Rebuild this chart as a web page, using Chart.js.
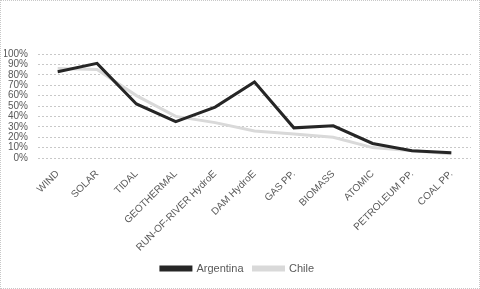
<!DOCTYPE html>
<html>
<head>
<meta charset="utf-8">
<script src="https://cdn.jsdelivr.net/npm/chart.js@4/dist/chart.umd.min.js"></script>
<style>
  html, body { margin: 0; padding: 0; background: #fff; }
  #wrap { width: 478px; height: 287px; border: 1px dotted #c8c8c8; }
</style>
</head>
<body>
<div id="wrap"><canvas id="myChart" width="478" height="287"></canvas></div>
<script>
// data (percent)
var categories = ['WIND', 'SOLAR', 'TIDAL', 'GEOTHERMAL', 'RUN-OF-RIVER HydroE', 'DAM HydroE', 'GAS PP.', 'BIOMASS', 'ATOMIC', 'PETROLEUM PP.', 'COAL PP.'];
var argentina = [83, 91, 52, 35, 49, 73, 29, 31, 14, 7, 5];
var chile = [86, 85, 60, 40, 34, 26, 23, 20, 10, 7, 4];

Chart.defaults.font.family = "'Liberation Sans', Arial, sans-serif";
Chart.defaults.color = '#595959';

var ctx = document.getElementById('myChart').getContext('2d');

var myChart = new Chart(ctx, {
    type: 'line',
    data: {
        labels: categories,
        datasets: [{
            label: 'Argentina',
            data: argentina,
            borderColor: '#262626',
            backgroundColor: '#262626',
            borderWidth: 3,
            pointRadius: 0,
            tension: 0
        }, {
            label: 'Chile',
            data: chile,
            borderColor: '#d9d9d9',
            backgroundColor: '#d9d9d9',
            borderWidth: 3,
            pointRadius: 0,
            tension: 0
        }]
    },
    options: {
        responsive: false,
        animation: false,
        plugins: {
            legend: {
                position: 'bottom',
                labels: { boxWidth: 30, boxHeight: 3, font: { size: 11 }, padding: 10, color: '#595959' }
            },
            tooltip: { enabled: false }
        },
        scales: {
            x: {
                offset: true,
                grid: { display: false },
                border: { display: false },
                ticks: { maxRotation: 45, minRotation: 45, font: { size: 10 }, padding: 2 },
                afterFit: function (scale) { scale.height = 95; }
            },
            y: {
                min: 0,
                max: 100,
                ticks: {
                    stepSize: 10,
                    autoSkip: false,
                    font: { size: 10 },
                    padding: 10,
                    callback: function (v) { return v + '%'; }
                },
                grid: { color: '#c8c8c8', drawTicks: false },
                border: { display: false, dash: [2, 2] },
                afterFit: function (scale) { scale.width = 34; }
            }
        },
        layout: {
            padding: { top: 53, left: 3, right: 8, bottom: 4 }
        }
    }
});
</script>
</body>
</html>
